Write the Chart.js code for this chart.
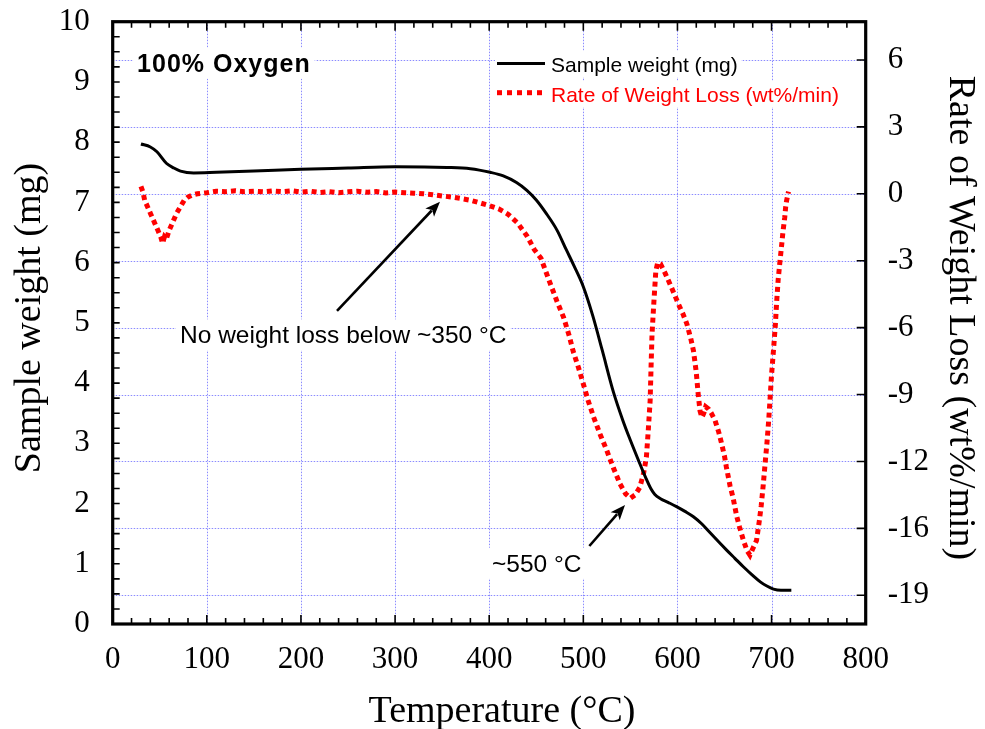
<!DOCTYPE html>
<html>
<head>
<meta charset="utf-8">
<script src="https://cdn.jsdelivr.net/npm/chart.js@4.4.1/dist/chart.umd.min.js"></script>
<style>
  html, body { margin: 0; padding: 0; background: #fff; }
  #chart { display: block; }
</style>
</head>
<body>
<canvas id="chart" width="985" height="729"></canvas>
<script>
// sample weight curve (left axis, mg)
const tempW = [30, 40, 47, 57, 65, 72, 86, 110, 150, 200, 250, 300, 355, 380, 401, 415, 429, 440, 450, 460, 472, 482, 490, 500, 510, 520, 532, 542, 550, 558, 566, 572, 576, 582, 590, 599, 608, 617, 626, 635, 644, 652, 661, 670, 679, 688, 695, 702, 710, 721];
const weight = [7.97, 7.92, 7.84, 7.65, 7.57, 7.52, 7.49, 7.50, 7.52, 7.55, 7.57, 7.59, 7.58, 7.56, 7.50, 7.44, 7.33, 7.20, 7.04, 6.83, 6.54, 6.21, 5.95, 5.60, 5.12, 4.55, 3.85, 3.38, 3.05, 2.74, 2.44, 2.24, 2.15, 2.08, 2.02, 1.95, 1.87, 1.78, 1.66, 1.51, 1.36, 1.23, 1.09, 0.95, 0.82, 0.70, 0.63, 0.58, 0.56, 0.56];

// rate of weight loss (right axis, wt%/min)
const tempR = [30, 32, 34, 37, 40, 44, 48, 51, 53, 55, 57, 60, 64, 68, 72, 76, 80, 85, 90, 100, 110, 120, 130, 140, 150, 160, 170, 180, 190, 200, 210, 220, 230, 240, 250, 260, 270, 280, 290, 300, 310, 320, 330, 340, 350, 360, 370, 380, 390, 400, 410, 420, 430, 440, 448, 455, 465, 472, 479, 485, 489, 495, 500, 505, 511, 518, 525, 532, 539, 545, 550, 555, 560, 564, 567, 569, 571, 572, 573, 575, 577, 579, 582, 587, 592, 597, 601, 606, 610, 614, 617, 620, 622, 624, 626, 628, 630, 633, 636, 640, 644, 647, 650, 652, 656, 659, 663, 666, 670, 674, 677, 680, 684, 687, 689, 691, 693, 695, 697, 698.5, 700, 702, 704, 705.5, 707, 709, 710.5, 712, 714, 715, 716, 717.5, 718];
const rate = [0.34, 0.1, -0.3, -0.6, -0.9, -1.3, -1.7, -2.0, -2.3, -2.0, -2.1, -1.7, -1.3, -0.9, -0.6, -0.3, -0.15, -0.05, 0.0, 0.05, 0.12, 0.10, 0.14, 0.10, 0.12, 0.09, 0.13, 0.10, 0.14, 0.08, 0.12, 0.06, 0.10, 0.05, 0.09, 0.12, 0.07, 0.10, 0.04, 0.08, 0.05, 0.03, 0.0, -0.04, -0.10, -0.15, -0.22, -0.30, -0.42, -0.55, -0.70, -0.95, -1.35, -1.95, -2.6, -3.0, -4.19, -5.0, -5.74, -6.6, -7.29, -8.1, -8.84, -9.6, -10.39, -11.2, -11.94, -12.75, -13.49, -13.95, -14.15, -14.0, -13.65, -13.0, -12.25, -11.0, -9.61, -8.0, -6.51, -5.0, -3.6, -3.2, -3.26, -3.7, -4.19, -4.7, -5.12, -5.6, -6.05, -6.7, -7.29, -8.3, -9.3, -10.1, -10.39, -10.2, -9.9, -10.0, -10.2, -10.54, -11.1, -11.63, -12.2, -12.71, -13.6, -14.11, -15.0, -15.5, -16.1, -16.6, -16.8, -16.5, -16.12, -15.2, -14.5, -13.6, -12.6, -11.63, -10.5, -9.46, -8.4, -7.29, -6.1, -4.96, -4.0, -3.1, -2.48, -1.8, -1.09, -0.6, -0.31, 0.0, 0.1];

// right axis: 9 equal divisions of -20..8, labels rounded as printed
const rateMin = -20, rateMax = 8;
const rateTickLabels = ['6', '3', '0', '-3', '-6', '-9', '-12', '-16', '-19'];
const rateTicks = [2, 1, 0, -1, -2, -3, -4, -5, -6].map(k => k * (rateMax - rateMin) / 9);

const SERIF = '"Liberation Serif", "Times New Roman", serif';
const SANS = '"Liberation Sans", Arial, sans-serif';
const GRID = 'rgba(100, 100, 255, 0.75)';

function arrow(ctx, x1, y1, x2, y2) {
  const a = Math.atan2(y2 - y1, x2 - x1);
  const len = 15, half = 6;
  ctx.strokeStyle = '#000';
  ctx.fillStyle = '#000';
  ctx.lineWidth = 2.6;
  ctx.beginPath();
  ctx.moveTo(x1, y1);
  ctx.lineTo(x2 - Math.cos(a) * len * 0.8, y2 - Math.sin(a) * len * 0.8);
  ctx.stroke();
  ctx.beginPath();
  ctx.moveTo(x2, y2);
  ctx.lineTo(x2 - Math.cos(a) * len + Math.sin(a) * half, y2 - Math.sin(a) * len - Math.cos(a) * half);
  ctx.lineTo(x2 - Math.cos(a) * len * 0.75, y2 - Math.sin(a) * len * 0.75);
  ctx.lineTo(x2 - Math.cos(a) * len - Math.sin(a) * half, y2 - Math.sin(a) * len + Math.cos(a) * half);
  ctx.closePath();
  ctx.fill();
}

function label(ctx, text, x, y, font, color, box) {
  ctx.font = font;
  const w = ctx.measureText(text).width;
  if (box) {
    ctx.fillStyle = '#fff';
    ctx.fillRect(x - 4, y - 24, w + 8, 31);
  }
  ctx.fillStyle = color;
  ctx.textAlign = 'left';
  ctx.textBaseline = 'alphabetic';
  ctx.fillText(text, x, y);
}

const decor = {
  id: 'decor',
  beforeDatasetsDraw(chart) {
    const { ctx, chartArea: a, scales } = chart;
    ctx.save();
    ctx.strokeStyle = GRID;
    ctx.lineWidth = 1;
    ctx.setLineDash([1.5, 1.5]);
    for (let v = 100; v < 800; v += 100) {
      const x = Math.round(scales.x.getPixelForValue(v)) + 0.5;
      ctx.beginPath(); ctx.moveTo(x, a.top); ctx.lineTo(x, a.bottom); ctx.stroke();
    }
    rateTicks.forEach(v => {
      const y = Math.round(scales.y2.getPixelForValue(v)) + 0.5;
      ctx.beginPath(); ctx.moveTo(a.left, y); ctx.lineTo(a.right, y); ctx.stroke();
    });
    ctx.restore();
  },
  afterDatasetsDraw(chart) {
    const { ctx, chartArea: a, scales } = chart;
    const xs = scales.x, yl = scales.y, yr = scales.y2;
    ctx.save();

    // annotations
    const ann = '24.5px ' + SANS;
    label(ctx, 'No weight loss below ~350 °C', xs.getPixelForValue(71.5), yl.getPixelForValue(4.66), ann, '#000', true);
    label(ctx, '~550 °C', xs.getPixelForValue(403), yl.getPixelForValue(0.868), ann, '#000', true);
    ctx.letterSpacing = '1px';
    label(ctx, '100% Oxygen', xs.getPixelForValue(25.9), yl.getPixelForValue(9.17), 'bold 25px ' + SANS, '#000', true);
    ctx.letterSpacing = '0px';
    arrow(ctx, xs.getPixelForValue(238.3), yl.getPixelForValue(5.20), xs.getPixelForValue(347.7), yl.getPixelForValue(7.01));
    arrow(ctx, xs.getPixelForValue(506.4), yl.getPixelForValue(1.295), xs.getPixelForValue(544.3), yl.getPixelForValue(1.976));

    // legend
    ctx.font = '21px ' + SANS;
    ctx.fillStyle = '#fff';
    ctx.fillRect(495, 51, 246, 26);
    ctx.fillRect(495, 81, 352, 26);
    ctx.lineWidth = 3;
    ctx.strokeStyle = '#000';
    ctx.beginPath(); ctx.moveTo(497, 63.5); ctx.lineTo(545, 63.5); ctx.stroke();
    ctx.strokeStyle = '#f00';
    ctx.lineWidth = 5;
    ctx.setLineDash([5, 5]);
    ctx.beginPath(); ctx.moveTo(497, 92.7); ctx.lineTo(547, 92.7); ctx.stroke();
    ctx.setLineDash([]);
    ctx.textAlign = 'left';
    ctx.textBaseline = 'alphabetic';
    ctx.fillStyle = '#000';
    ctx.fillText(chart.data.datasets[0].label, 551, 71.7);
    ctx.fillStyle = '#f00';
    ctx.fillText(chart.data.datasets[1].label, 551, 101.7);

    // tick marks (inward)
    ctx.strokeStyle = '#000';
    ctx.lineWidth = 1.6;
    ctx.beginPath();
    for (let v = 20; v < 800; v += 20) {
      const x = xs.getPixelForValue(v);
      const len = v % 100 === 0 ? 9 : 6;
      ctx.moveTo(x, a.bottom); ctx.lineTo(x, a.bottom - len);
      ctx.moveTo(x, a.top); ctx.lineTo(x, a.top + len);
    }
    for (let v = 0.25; v < 10; v += 0.25) {
      const y = yl.getPixelForValue(v);
      ctx.moveTo(a.left, y); ctx.lineTo(a.left + 7, y);
    }
    rateTicks.forEach(v => {
      const y = yr.getPixelForValue(v);
      ctx.moveTo(a.right, y); ctx.lineTo(a.right - 9, y);
    });
    ctx.stroke();

    // frame
    ctx.lineWidth = 3.2;
    ctx.strokeRect(a.left, a.top, a.right - a.left, a.bottom - a.top);

    // axis titles
    ctx.fillStyle = '#000';
    ctx.font = '38px ' + SERIF;
    ctx.textAlign = 'center';
    ctx.textBaseline = 'alphabetic';
    ctx.fillText('Temperature (°C)', 502, 722);
    ctx.save();
    ctx.translate(40, 318);
    ctx.rotate(-Math.PI / 2);
    ctx.fillText('Sample weight (mg)', 0, 0);
    ctx.restore();
    ctx.save();
    ctx.translate(950, 318);
    ctx.rotate(Math.PI / 2);
    ctx.fillText('Rate of Weight Loss (wt%/min)', 0, 0);
    ctx.restore();

    ctx.restore();
  }
};

const tickFont = { family: SERIF, size: 31 };

function noPad(scale) {
  scale.paddingTop = 0;
  scale.paddingBottom = 0;
  scale.paddingLeft = 0;
  scale.paddingRight = 0;
}

new Chart(document.getElementById('chart'), {
  type: 'line',
  data: {
    datasets: [
      {
        label: 'Sample weight (mg)',
        data: tempW.map((t, i) => ({ x: t, y: weight[i] })),
        yAxisID: 'y',
        borderColor: '#000',
        borderWidth: 3,
        pointRadius: 0,
        cubicInterpolationMode: 'monotone',
        fill: false
      },
      {
        label: 'Rate of Weight Loss (wt%/min)',
        data: tempR.map((t, i) => ({ x: t, y: rate[i] })),
        yAxisID: 'y2',
        borderColor: '#f00',
        borderWidth: 5,
        borderDash: [5, 4],
        pointRadius: 0,
        tension: 0,
        fill: false
      }
    ]
  },
  options: {
    responsive: false,
    animation: false,
    devicePixelRatio: 1,
    layout: { padding: { top: 21.7, left: 0, right: 0, bottom: 0 } },
    plugins: {
      legend: { display: false },
      tooltip: { enabled: false }
    },
    scales: {
      x: {
        type: 'linear',
        min: 0,
        max: 800,
        grid: { display: false },
        border: { display: false },
        ticks: { stepSize: 100, font: tickFont, color: '#000', padding: 9, maxRotation: 0, autoSkip: false },
        afterFit(scale) { scale.height = 105; noPad(scale); }
      },
      y: {
        position: 'left',
        min: 0,
        max: 10,
        grid: { display: false },
        border: { display: false },
        ticks: { stepSize: 1, font: tickFont, color: '#000', padding: 15 },
        afterFit(scale) { scale.width = 112.7; noPad(scale); }
      },
      y2: {
        position: 'right',
        min: rateMin,
        max: rateMax,
        grid: { display: false },
        border: { display: false },
        afterBuildTicks(scale) { scale.ticks = rateTicks.map(v => ({ value: v })); },
        ticks: {
          font: tickFont,
          color: '#000',
          padding: 14,
          autoSkip: false,
          callback: (v, i) => rateTickLabels[i]
        },
        afterFit(scale) { scale.width = 119.3; noPad(scale); }
      }
    }
  },
  plugins: [decor]
});
</script>
</body>
</html>
